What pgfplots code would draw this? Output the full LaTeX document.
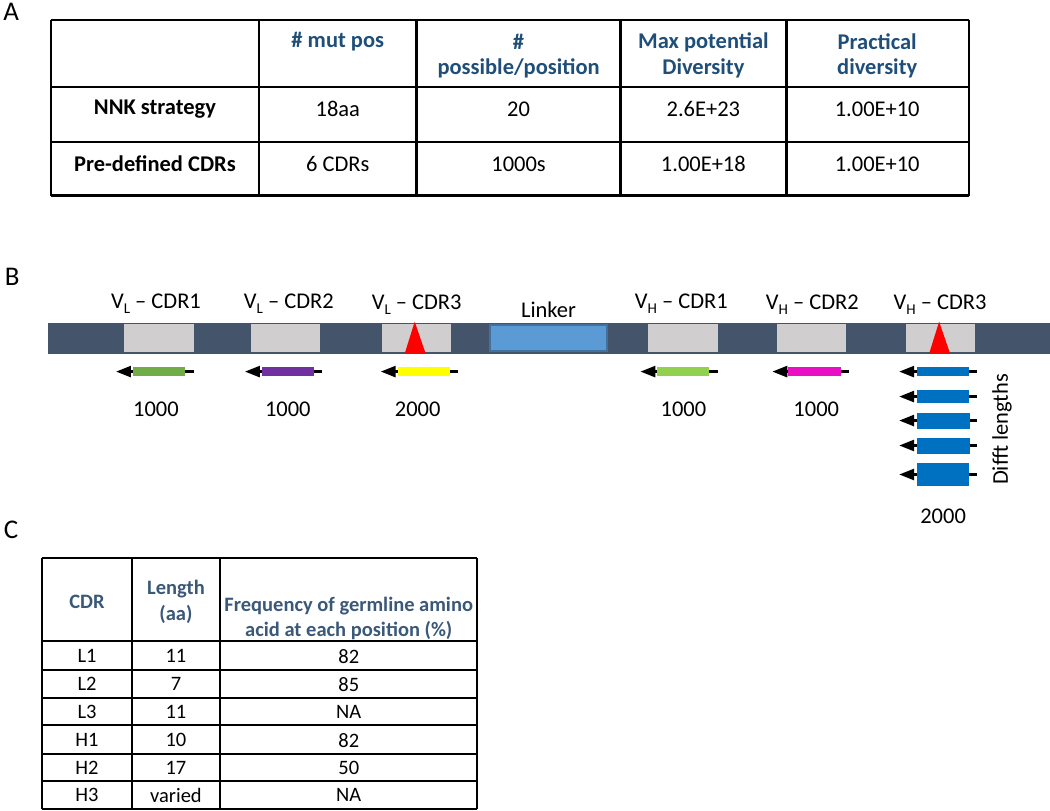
\documentclass[border=0pt]{standalone}
\usepackage{pgfplots}
\pgfplotsset{compat=1.18}
\usepackage{fontspec}
\setmainfont{Carlito}
\usetikzlibrary{arrows.meta}
\definecolor{hdr}{HTML}{1F4E79}
\definecolor{hdrc}{HTML}{3A5878}
\definecolor{darkbar}{HTML}{44546A}
\definecolor{cdrgray}{HTML}{D0CECE}
\definecolor{linkfill}{HTML}{5B9BD5}
\definecolor{linkdraw}{HTML}{41719C}
\definecolor{cgreen}{HTML}{70AD47}
\definecolor{cpurple}{HTML}{7030A0}
\definecolor{cyellow}{HTML}{FFFF00}
\definecolor{clgreen}{HTML}{92D050}
\definecolor{cmag}{HTML}{E80FC4}
\definecolor{cblue}{HTML}{0070C0}
\newcommand{\sub}[1]{\raisebox{-0.4ex}{\fontsize{15bp}{15bp}\selectfont #1}}
\newcommand{\fa}{\fontsize{22.5bp}{27bp}\selectfont}
\newcommand{\fc}{\fontsize{20.5bp}{24bp}\selectfont}
% \arr{tip}{end}{y}{barL}{barR}{half height}{color}
\newcommand{\arr}[7]{%
  \draw[line width=2.6bp,-{Triangle[length=15bp,width=11bp]}] (#2,#3) -- (#1,#3);
  \fill[#7] (#4,#3-#6) rectangle (#5,#3+#6);
}
\newcommand{\cdrbox}[2]{\fill[cdrgray] (#1,326.5) rectangle (#2,354.5);}
\newcommand{\crow}[4]{%
  \node[font=\fc] at (86,#1) {#2};
  \node[font=\fc] at (175,#1) {#3};
  \node[font=\fc] at (348,#1) {#4};
}
\begin{document}
\begin{tikzpicture}
\begin{axis}[scale only axis, width=1050bp, height=813bp,
  xmin=0, xmax=1050, ymin=0, ymax=813, y dir=reverse,
  hide axis, clip=false]
% ---------- panel letters
\node[font=\fontsize{27bp}{30bp}\selectfont] at (10,14) {A};
\node[font=\fontsize{27bp}{30bp}\selectfont] at (11,279) {B};
\node[font=\fontsize{27bp}{30bp}\selectfont] at (10,532) {C};
% ---------- table A
\pgfplotsinvokeforeach{50,258,416,620,786,969}{\draw[line width=2.6bp] (#1,22) -- (#1,198);}
\pgfplotsinvokeforeach{22,89,144,198}{\draw[line width=2.6bp] (50,#1) -- (969,#1);}
\node[font=\fa\bfseries,text=hdr] at (337,44) {\# mut pos};
\node[font=\fa\bfseries,text=hdr] at (518,44) {\#};
\node[font=\fa\bfseries,text=hdr] at (518,70) {possible/position};
\node[font=\fa\bfseries,text=hdr] at (703,44) {Max potential};
\node[font=\fa\bfseries,text=hdr] at (703,70) {Diversity};
\node[font=\fa\bfseries,text=hdr] at (877,44) {Practical};
\node[font=\fa\bfseries,text=hdr] at (877,70) {diversity};
\node[font=\fa\bfseries] at (154,111) {NNK strategy};
\node[font=\fa] at (337,111) {18aa};
\node[font=\fa] at (518,111) {20};
\node[font=\fa] at (703,111) {2.6E+23};
\node[font=\fa] at (877,111) {1.00E+10};
\node[font=\fa\bfseries] at (154,166) {Pre-defined CDRs};
\node[font=\fa] at (337,166) {6 CDRs};
\node[font=\fa] at (518,166) {1000s};
\node[font=\fa] at (703,166) {1.00E+18};
\node[font=\fa] at (877,166) {1.00E+10};
% ---------- panel B construct
\fill[darkbar] (47,325) rectangle (1050,356);
\cdrbox{123}{193}
\cdrbox{250}{319}
\cdrbox{381}{450}
\cdrbox{648}{718}
\cdrbox{777}{846}
\cdrbox{906}{975}
\filldraw[fill=linkfill,draw=linkdraw,line width=2bp] (489,327.5) rectangle (607,353.5);
\fill[red] (414,324) -- (425,356) -- (404,356) -- cycle;
\fill[red] (939,324) -- (950,356) -- (929,356) -- cycle;
\node[font=\fa] at (155,306) {V\sub{L} -- CDR1};
\node[font=\fa] at (288,306) {V\sub{L} -- CDR2};
\node[font=\fa] at (416,307) {V\sub{L} -- CDR3};
\node[font=\fa] at (548,312) {Linker};
\node[font=\fa] at (681,306) {V\sub{H} -- CDR1};
\node[font=\fa] at (812,307) {V\sub{H} -- CDR2};
\node[font=\fa] at (940,307) {V\sub{H} -- CDR3};
% arrows
\arr{115}{193}{374}{132}{184}{4.5}{cgreen}
\arr{244}{321}{374}{261}{313}{4.5}{cpurple}
\arr{380}{457}{374}{397}{449}{4.5}{cyellow}
\arr{640}{718}{374}{657}{709}{4.5}{clgreen}
\arr{772}{849}{374}{788}{841}{4.5}{cmag}
\arr{899}{977}{374}{917}{969}{4.5}{cblue}
\arr{899}{977}{399}{917}{969}{6.5}{cblue}
\arr{899}{977}{423}{917}{970}{8}{cblue}
\arr{899}{977}{448}{917}{970}{8}{cblue}
\arr{899}{977}{477}{917}{969}{11.5}{cblue}
\node[font=\fa] at (155,412) {1000};
\node[font=\fa] at (287,412) {1000};
\node[font=\fa] at (417,412) {2000};
\node[font=\fa] at (683,412) {1000};
\node[font=\fa] at (816,412) {1000};
\node[font=\fa] at (943,519) {2000};
\node[font=\fa,rotate=90] at (1002,432) {Difft lengths};
% ---------- table C
\pgfplotsinvokeforeach{41,131,219,476}{\draw[line width=2bp] (#1,561) -- (#1,812);}
\pgfplotsinvokeforeach{561,644,673,701,728,757,784,812}{\draw[line width=2bp] (41,#1) -- (476,#1);}
\node[font=\fc\bfseries,text=hdrc] at (86,604) {CDR};
\node[font=\fc\bfseries,text=hdrc] at (175,592) {Length};
\node[font=\fc\bfseries,text=hdrc] at (175,617) {(aa)};
\node[font=\fc\bfseries,text=hdrc] at (348,609) {Frequency of germline amino};
\node[font=\fc\bfseries,text=hdrc] at (348,633) {acid at each position (\%)};
\crow{659}{L1}{11}{82}
\crow{687}{L2}{7}{85}
\crow{715}{L3}{11}{NA}
\crow{743}{H1}{10}{82}
\crow{771}{H2}{17}{50}
\crow{798}{H3}{varied}{NA}
\end{axis}
\end{tikzpicture}
\end{document}
